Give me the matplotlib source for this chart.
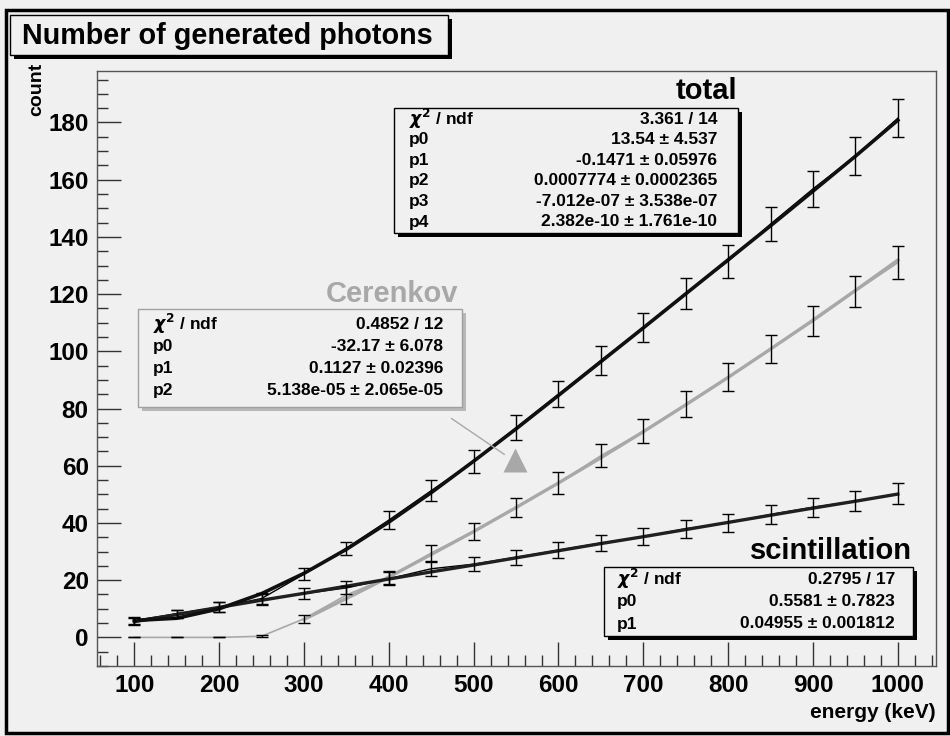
import matplotlib.pyplot as plt
import matplotlib.patches as mpatches
from matplotlib.ticker import MultipleLocator
import numpy as np

plt.rcParams['font.family'] = ['Liberation Sans', 'DejaVu Sans']
plt.rcParams['font.weight'] = 'bold'
plt.rcParams['mathtext.fontset'] = 'dejavusans'

# data
energy = [100, 150, 200, 250, 300, 350, 400, 450, 500, 550,
          600, 650, 700, 750, 800, 850, 900, 950, 1000]

total = [6.0, 8.2, 10.5, 13.6, 22.1, 31.2, 41.0, 51.3, 61.5, 73.3,
         85.0, 96.8, 108.3, 120.3, 131.5, 144.5, 156.8, 168.3, 181.5]
total_err = [1.2, 1.5, 1.7, 2.0, 2.0, 2.3, 3.2, 3.6, 3.9, 4.3,
             4.6, 4.9, 5.2, 5.5, 5.7, 6.0, 6.3, 6.5, 6.7]
total_fit = [5.9, 6.7, 10.0, 15.3, 22.4, 30.8, 40.3, 50.6, 61.6, 72.9,
             84.6, 96.4, 108.2, 120.1, 132.0, 143.9, 156.0, 168.2, 180.8]

cer = [0.0, 0.0, 0.0, 0.4, 6.5, 14.8, 21.0, 29.5, 37.0, 45.5,
       54.0, 63.5, 72.0, 81.5, 91.0, 100.8, 110.5, 121.0, 131.0]
cer_err = [0.0, 0.0, 0.0, 0.3, 1.3, 3.0, 2.3, 2.7, 3.0, 3.4,
           3.7, 4.0, 4.2, 4.5, 4.8, 5.0, 5.3, 5.5, 5.7]
cer_fit = [6.3, 13.6, 21.1, 29.0, 37.0, 45.4, 54.0, 62.8, 71.9, 81.3,
           90.9, 100.8, 110.9, 121.3, 131.9]

scint = [5.5, 8.3, 10.6, 13.2, 15.3, 17.3, 20.5, 24.0, 25.6, 28.0,
         30.5, 33.0, 35.2, 38.0, 40.0, 43.0, 45.5, 47.6, 50.2]
scint_err = [1.2, 1.4, 1.6, 1.8, 1.8, 2.3, 2.3, 2.4, 2.5, 2.6,
             2.8, 2.9, 3.0, 3.1, 3.2, 3.3, 3.4, 3.5, 3.6]
scint_fit = [5.5, 8.0, 10.5, 13.0, 15.4, 17.9, 20.4, 22.9, 25.3, 27.8,
             30.3, 32.8, 35.2, 37.7, 40.2, 42.7, 45.2, 47.6, 50.1]

total_stats = [("$\\chi^2$ / ndf", "3.361 / 14"),
               ("p0", "13.54 ± 4.537"),
               ("p1", "-0.1471 ± 0.05976"),
               ("p2", "0.0007774 ± 0.0002365"),
               ("p3", "-7.012e-07 ± 3.538e-07"),
               ("p4", "2.382e-10 ± 1.761e-10")]
cer_stats = [("$\\chi^2$ / ndf", "0.4852 / 12"),
             ("p0", "-32.17 ± 6.078"),
             ("p1", "0.1127 ± 0.02396"),
             ("p2", "5.138e-05 ± 2.065e-05")]
scint_stats = [("$\\chi^2$ / ndf", "0.2795 / 17"),
               ("p0", "0.5581 ± 0.7823"),
               ("p1", "0.04955 ± 0.001812")]

W, H = 950, 736
bg = '#f0f0f0'
grey = '#a8a8a8'

fig = plt.figure(figsize=(W / 100, H / 100), dpi=100, facecolor=bg)


def fx(px):
    return px / W


def fy(py):
    return 1 - py / H


def box(x0, y0, x1, y1, edge, shadow, sh=4, lw=1.0):
    # shadow first, then the box on top
    fig.patches.append(mpatches.Rectangle((fx(x0 + sh), fy(y1 + sh)), fx(x1 - x0), (y1 - y0) / H,
                                          transform=fig.transFigure, facecolor=shadow,
                                          edgecolor='none', zorder=5))
    fig.patches.append(mpatches.Rectangle((fx(x0), fy(y1)), fx(x1 - x0), (y1 - y0) / H,
                                          transform=fig.transFigure, facecolor=bg,
                                          edgecolor=edge, lw=lw, zorder=6))


# outer frame
fig.patches.append(mpatches.Rectangle((fx(6), fy(733)), fx(942), 723 / H, transform=fig.transFigure,
                                      facecolor='none', edgecolor='black', lw=2.5, zorder=1))

ax = fig.add_axes([fx(97), fy(666), fx(936 - 97), (666 - 71) / H])
ax.set_facecolor(bg)

# data polylines (thin) and fitted curves (thick)
ax.plot(energy, cer, color=grey, lw=1.2, zorder=2)
ax.plot(energy[4:], cer_fit, color=grey, lw=2.4, zorder=3)
ax.plot(energy, scint, color='black', lw=1.0, zorder=2)
ax.plot(energy, scint_fit, color='#202020', lw=2.4, zorder=3)
ax.plot(energy, total, color='black', lw=1.0, zorder=2)
ax.plot(energy, total_fit, color='#101010', lw=2.6, zorder=3)

for y, e in [(total, total_err), (cer, cer_err), (scint, scint_err)]:
    ax.errorbar(energy, y, yerr=e, fmt='none', ecolor='black', elinewidth=1.0,
                capsize=4, capthick=1.0, zorder=4)

# arrow pointing at the Cerenkov curve
ax.plot([474, 536], [76.5, 64.0], color=grey, lw=1.0, zorder=3)
ax.plot([549], [62.0], marker='^', markersize=17, color=grey, mec='none', zorder=3)

ax.set_xlim(56, 1045)
ax.set_ylim(-10, 198)
ax.xaxis.set_major_locator(MultipleLocator(100))
ax.xaxis.set_minor_locator(MultipleLocator(20))
ax.yaxis.set_major_locator(MultipleLocator(20))
ax.yaxis.set_minor_locator(MultipleLocator(5))
ax.tick_params(which='both', direction='in', top=False, right=False, color='#333333')
ax.tick_params(which='major', length=17, width=1.0, labelsize=17.5, pad=6)
ax.tick_params(which='minor', length=8, width=1.0)
ax.set_yticks(np.arange(0, 181, 20))
for lab in ax.get_xticklabels() + ax.get_yticklabels():
    lab.set_fontweight('bold')
for s in ax.spines.values():
    s.set_color('#555555')
    s.set_linewidth(1.0)

fig.text(fx(936), fy(712), "energy (keV)", ha='right', va='center', fontsize=15, fontweight='bold')
fig.text(fx(37), fy(63), "count", ha='center', va='top', rotation=90, fontsize=14, fontweight='bold')

# title box
box(10, 15, 448, 55, 'black', 'black', sh=4, lw=1.0)
fig.text(fx(22), fy(36), "Number of generated photons", ha='left', va='center',
         fontsize=20.7, fontweight='bold', zorder=7)


def stats(rows, lx, vx, ty, dy, fs=12.5):
    for i, (a, b) in enumerate(rows):
        fig.text(fx(lx), fy(ty + i * dy), a, ha='left', va='center', fontsize=fs,
                 fontweight='bold', zorder=7)
        fig.text(fx(vx), fy(ty + i * dy), b, ha='right', va='center', fontsize=fs,
                 fontweight='bold', zorder=7)


# total
fig.text(fx(737), fy(99), "total", ha='right', va='baseline', fontsize=21, fontweight='bold', zorder=7)
box(394, 108, 738, 233, 'black', 'black', sh=4)
stats(total_stats, 409, 717, 119, 20.6)

# Cerenkov
fig.text(fx(458), fy(302), "Cerenkov", ha='right', va='baseline', fontsize=21, fontweight='bold',
         color=grey, zorder=7)
box(138, 309, 462, 407, '#a0a0a0', '#b8b8b8', sh=4)
stats(cer_stats, 153, 443, 324, 22.2)

# scintillation
fig.text(fx(912), fy(559), "scintillation", ha='right', va='baseline', fontsize=21, fontweight='bold',
         zorder=7)
box(604, 567, 913, 636, 'black', 'black', sh=4)
stats(scint_stats, 617, 895, 579, 22.5)

fig.savefig('out.png', dpi=100, facecolor=bg)
